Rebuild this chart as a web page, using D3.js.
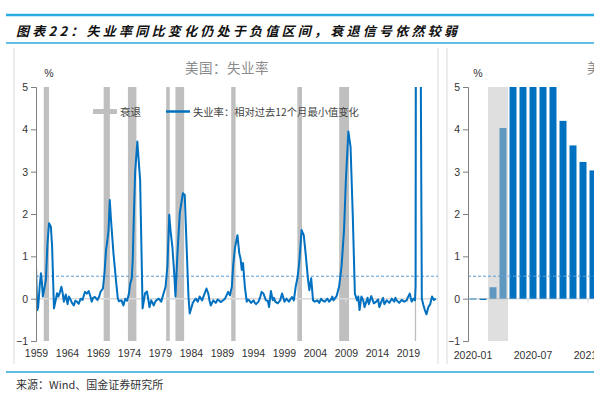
<!DOCTYPE html>
<html><head><meta charset="utf-8">
<script src="https://cdn.jsdelivr.net/npm/d3@7"></script>
<style>
html,body{margin:0;padding:0;background:#fff;}
svg{display:block;}
text{font-family:"Liberation Sans",Arial,sans-serif;}
.cjk{font-family:"Noto Sans CJK SC","Liberation Sans",sans-serif;}
</style></head>
<body>
<svg id="c" width="594" height="395"></svg>
<script>
// ---------- data ----------
const figTitle = "图表22：失业率同比变化仍处于负值区间，衰退信号依然较弱";
const sourceText = "来源：Wind、国金证券研究所";
const panelTitle = "美国：失业率";
const legendLabels = ["衰退", "失业率：相对过去12个月最小值变化"];
const yTicks = [-1, 0, 1, 2, 3, 4, 5];
const xTickYears = [1959, 1964, 1969, 1974, 1979, 1984, 1989, 1994, 1999, 2004, 2009, 2014, 2019];
const thresholdValue = 0.53;
const recessions = [[1960.25, 1961.1], [1969.92, 1970.92], [1973.83, 1975.2], [1980.0, 1980.58],
  [1981.5, 1982.9], [1990.5, 1991.2], [2001.17, 2001.92], [2007.92, 2009.5], [2020.12, 2020.33]];
// [year, value]
const unemploymentChange = [
 [1959.0,0.76],[1959.2,-0.27],[1959.35,-0.2],[1959.6,0.3],[1959.8,0.6],[1959.95,0.4],[1960.1,0.05],[1960.3,0.2],
 [1960.6,0.45],[1960.85,1.3],[1961.1,1.78],[1961.4,1.7],[1961.6,1.23],[1961.9,-0.23],[1962.2,-0.02],[1962.4,0.13],
 [1962.6,0.05],[1962.85,0.15],[1963.1,0.28],[1963.3,0.13],[1963.5,-0.07],[1963.8,0.1],[1964.1,-0.13],[1964.3,0.05],
 [1964.5,0.0],[1964.8,-0.1],[1965.1,-0.16],[1965.35,-0.05],[1965.6,-0.07],[1965.9,-0.12],[1966.2,0.0],[1966.5,-0.03],
 [1966.9,0.16],[1967.2,0.12],[1967.5,0.18],[1967.8,0.04],[1968.0,-0.07],[1968.2,0.02],[1968.5,0.04],[1968.9,-0.03],
 [1969.2,0.05],[1969.4,0.16],[1969.8,0.24],[1970.05,0.6],[1970.3,1.15],[1970.5,1.35],[1970.7,1.62],[1970.9,2.33],
 [1971.1,1.86],[1971.5,1.07],[1971.9,0.44],[1972.2,0.0],[1972.4,-0.06],[1972.6,-0.05],[1972.8,-0.04],[1973.1,-0.16],
 [1973.4,0.0],[1973.7,-0.05],[1974.0,0.12],[1974.2,0.36],[1974.45,0.48],[1974.6,0.9],[1974.8,2.02],[1975.0,3.0],
 [1975.35,3.71],[1975.6,3.2],[1975.8,2.8],[1976.2,-0.23],[1976.4,-0.05],[1976.6,0.13],[1976.9,0.17],[1977.1,0.0],
 [1977.3,-0.2],[1977.6,-0.04],[1977.8,-0.1],[1978.0,-0.16],[1978.2,-0.08],[1978.4,-0.04],[1978.8,0.0],[1979.0,-0.03],
 [1979.2,-0.07],[1979.5,0.08],[1979.9,0.28],[1980.2,0.76],[1980.5,1.98],[1980.7,1.62],[1981.0,1.23],[1981.3,0.6],
 [1981.5,0.05],[1981.8,1.0],[1982.2,2.02],[1982.7,2.49],[1983.0,2.45],[1983.3,1.23],[1983.6,0.05],[1983.8,-0.35],
 [1984.1,-0.2],[1984.3,-0.1],[1984.5,-0.05],[1984.8,0.0],[1985.1,-0.07],[1985.4,0.05],[1985.8,-0.04],[1986.2,0.12],
 [1986.5,0.24],[1986.8,0.12],[1987.0,-0.05],[1987.2,-0.16],[1987.6,-0.04],[1988.0,-0.1],[1988.3,-0.02],[1988.5,-0.04],
 [1988.8,-0.08],[1989.1,-0.05],[1989.5,0.0],[1990.0,0.16],[1990.3,0.08],[1990.6,0.28],[1990.8,0.76],[1991.1,1.2],
 [1991.5,1.5],[1991.8,1.07],[1992.0,0.95],[1992.2,0.68],[1992.4,0.84],[1992.7,0.28],[1993.0,-0.07],[1993.2,-0.02],
 [1993.4,-0.04],[1993.7,-0.1],[1994.1,-0.04],[1994.3,-0.1],[1994.5,-0.13],[1994.9,-0.07],[1995.2,0.05],[1995.4,0.16],
 [1995.7,0.12],[1996.1,-0.04],[1996.4,-0.05],[1996.6,-0.2],[1996.9,0.18],[1997.2,-0.04],[1997.4,0.02],[1997.6,-0.07],
 [1998.0,-0.11],[1998.4,-0.04],[1998.7,0.12],[1999.1,-0.07],[1999.4,0.0],[1999.8,-0.07],[2000.3,0.04],[2000.6,-0.04],
 [2000.9,0.28],[2001.2,0.5],[2001.5,0.9],[2001.85,1.62],[2002.2,1.5],[2002.5,1.07],[2002.9,0.44],[2003.1,0.2],
 [2003.4,0.48],[2003.7,-0.04],[2004.0,-0.07],[2004.4,-0.04],[2004.7,-0.1],[2005.0,0.0],[2005.2,-0.04],[2005.6,-0.07],
 [2006.0,0.0],[2006.3,-0.07],[2006.6,-0.02],[2006.8,0.05],[2007.0,-0.04],[2007.5,0.06],[2007.9,0.28],[2008.3,0.76],
 [2008.7,1.62],[2009.0,2.8],[2009.4,3.95],[2009.75,3.59],[2010.1,2.02],[2010.45,0.12],[2010.8,-0.04],[2011.0,0.05],
 [2011.2,-0.27],[2011.5,0.05],[2011.8,-0.04],[2012.0,-0.2],[2012.3,-0.07],[2012.5,0.02],[2012.7,-0.13],[2013.1,0.06],
 [2013.5,-0.11],[2013.9,-0.07],[2014.2,-0.02],[2014.4,-0.2],[2014.8,-0.04],[2015.0,0.02],[2015.2,-0.13],[2015.6,-0.04],
 [2016.0,-0.1],[2016.4,0.0],[2016.8,-0.07],[2017.0,0.02],[2017.2,-0.04],[2017.6,-0.1],[2018.0,-0.03],[2018.4,-0.07],
 [2018.8,-0.04],[2019.0,0.03],[2019.3,0.12],[2019.6,-0.07],[2019.9,0.0],[2020.15,-0.04],[2020.25,0.3],[2020.33,11.2],
 [2020.42,9.7],[2020.5,7.5],[2020.75,6.8],[2021.0,6.0],[2021.08,5.6],[2021.17,2.5],[2021.25,0.0],[2021.5,-0.15],
 [2021.75,-0.27],[2022.0,-0.37],[2022.3,-0.2],[2022.6,-0.13],[2022.9,0.05],[2023.2,-0.03],[2023.5,0.0]
];
// right panel: monthly bars
const months = ["2020-01","2020-02","2020-03","2020-04","2020-05","2020-06","2020-07","2020-08","2020-09",
  "2020-10","2020-11","2020-12","2021-01","2021-02","2021-03"];
const monthValues = [0.0, -0.03, 0.27, 4.03, 7.27, 9.47, 8.13, 6.37, 5.3, 4.2, 3.62, 3.23, 3.03, 2.9, 2.6];
const recessionMonths = ["2020-03", "2020-04"];
const monthTickLabels = ["2020-01", "2020-07", "2021-01"];

// ---------- styles ----------
const BLUE = "#0070c0", GRAY_BAND = "#bfbfbf", AXIS = "#7f7f7f", TXT = "#333";
const svg = d3.select("#c");

// header / footer
svg.append("line").attr("x1",6).attr("x2",594).attr("y1",15).attr("y2",15).attr("stroke","#29abe2").attr("stroke-width",2.5);
svg.append("line").attr("x1",6).attr("x2",594).attr("y1",43).attr("y2",43).attr("stroke","#29abe2").attr("stroke-width",1.5);
svg.append("text").attr("class","cjk").attr("x",16).attr("y",35.5).attr("font-size",13).attr("font-weight","bold")
  .attr("font-style","italic").attr("letter-spacing",3.25).attr("fill","#111").text(figTitle);
svg.append("line").attr("x1",6).attr("x2",594).attr("y1",372).attr("y2",372).attr("stroke","#29abe2").attr("stroke-width",1.5);
svg.append("text").attr("class","cjk").attr("x",16).attr("y",389).attr("font-size",11).attr("fill",TXT).text(sourceText);

// panel borders
[14, 438, 447].forEach(px => svg.append("line").attr("x1",px).attr("x2",px).attr("y1",48).attr("y2",364)
  .attr("stroke","#d9d9d9").attr("stroke-width",1));

// ---------- left chart ----------
const x = d3.scaleLinear().domain([1959, 2023.7]).range([36, 437]);
const y = d3.scaleLinear().domain([-1, 5]).range([341, 87]);

const defs = svg.append("defs");
defs.append("clipPath").attr("id","clipL").append("rect").attr("x",36).attr("y",y(5)).attr("width",402).attr("height",y(-1)-y(5));
defs.append("clipPath").attr("id","clipR").append("rect").attr("x",468).attr("y",y(5)).attr("width",130).attr("height",y(-1)-y(5));

const L = svg.append("g");
L.selectAll("rect.rec").data(recessions).join("rect").attr("class","rec")
  .attr("x", d => x(d[0])).attr("width", d => Math.max(1.2, x(d[1]) - x(d[0])))
  .attr("y", y(5)).attr("height", y(-1) - y(5)).attr("fill", GRAY_BAND);
L.append("line").attr("x1",x(1959)).attr("x2",438).attr("y1",y(0)).attr("y2",y(0)).attr("stroke","#d9d9d9").attr("stroke-width",1.5);
L.selectAll("line.zt").data(xTickYears).join("line").attr("class","zt")
  .attr("x1",d=>x(d)).attr("x2",d=>x(d)).attr("y1",y(0)).attr("y2",y(0)+4).attr("stroke","#d9d9d9");
L.append("line").attr("x1",x(1959)).attr("x2",438).attr("y1",y(thresholdValue)).attr("y2",y(thresholdValue))
  .attr("stroke","#5b9bd5").attr("stroke-width",1).attr("stroke-dasharray","3,2");
L.append("path").datum(unemploymentChange).attr("clip-path","url(#clipL)")
  .attr("d", d3.line().x(d => x(d[0])).y(d => y(d[1])))
  .attr("fill","none").attr("stroke",BLUE).attr("stroke-width",2).attr("stroke-linejoin","round");

const yAxisL = L.append("g").attr("transform","translate(36,0)")
  .call(d3.axisLeft(y).tickValues(yTicks).tickSize(5).tickPadding(3).tickFormat(d3.format("d")));
yAxisL.select(".domain").attr("stroke",AXIS);
yAxisL.selectAll(".tick line").attr("stroke",AXIS);
yAxisL.selectAll("text").attr("font-size",10.5).attr("fill",TXT).attr("font-family","Liberation Sans, Arial, sans-serif");

const xAxisL = L.append("g").attr("transform",`translate(0,${y(-1)})`)
  .call(d3.axisBottom(x).tickValues(xTickYears).tickSize(0).tickPadding(9).tickFormat(d3.format("d")));
xAxisL.select(".domain").remove();
xAxisL.selectAll("text").attr("font-size",10.5).attr("fill",TXT).attr("font-family","Liberation Sans, Arial, sans-serif");

svg.append("text").attr("x",49).attr("y",77).attr("text-anchor","middle").attr("font-size",10.5).attr("fill",TXT).text("%");
svg.append("text").attr("class","cjk").attr("x",227).attr("y",73).attr("text-anchor","middle").attr("font-size",13.5)
  .attr("letter-spacing",0.5).attr("fill","#8c8c8c").text(panelTitle);

// legend
svg.append("line").attr("x1",93).attr("x2",117).attr("y1",111.5).attr("y2",111.5).attr("stroke",GRAY_BAND).attr("stroke-width",5);
svg.append("text").attr("class","cjk").attr("x",120).attr("y",115.5).attr("font-size",10.5).attr("fill","#444").text(legendLabels[0]);
svg.append("line").attr("x1",166).attr("x2",190).attr("y1",111.5).attr("y2",111.5).attr("stroke",BLUE).attr("stroke-width",2.5);
svg.append("text").attr("class","cjk").attr("x",193).attr("y",115.5).attr("font-size",10.3).attr("fill","#444").text(legendLabels[1]);

// ---------- right chart ----------
const xb = d3.scaleBand().domain(months).range([468, 468 + 10 * months.length]).padding(0);
const R = svg.append("g");
R.append("line").attr("x1",468).attr("x2",594).attr("y1",y(0)).attr("y2",y(0)).attr("stroke","#d9d9d9").attr("stroke-width",1.5);
R.selectAll("line.mt").data(monthTickLabels.slice(1)).join("line").attr("class","mt")
  .attr("x1",d=>xb(d)).attr("x2",d=>xb(d)).attr("y1",y(0)).attr("y2",y(0)+4).attr("stroke","#d9d9d9");
R.append("g").attr("clip-path","url(#clipR)").selectAll("rect").data(months).join("rect")
  .attr("x", (d) => xb(d) + xb.bandwidth() * 0.15).attr("width", xb.bandwidth() * 0.7)
  .attr("y", (d, i) => y(Math.max(0, monthValues[i])))
  .attr("height", (d, i) => Math.max(0.8, Math.abs(y(monthValues[i]) - y(0))))
  .attr("fill", BLUE);
R.append("rect").attr("x", xb(recessionMonths[0])).attr("width", xb(recessionMonths[1]) + xb.bandwidth() - xb(recessionMonths[0]))
  .attr("y", y(5)).attr("height", y(-1) - y(5)).attr("fill","#c0c0c0").attr("opacity",0.5);
R.append("line").attr("x1",468).attr("x2",594).attr("y1",y(thresholdValue)).attr("y2",y(thresholdValue))
  .attr("stroke","#5b9bd5").attr("stroke-width",1).attr("stroke-dasharray","3,2");
const yAxisR = R.append("g").attr("transform","translate(468,0)")
  .call(d3.axisLeft(y).tickValues(yTicks).tickSize(5).tickPadding(3).tickFormat(d3.format("d")));
yAxisR.select(".domain").attr("stroke",AXIS);
yAxisR.selectAll(".tick line").attr("stroke",AXIS);
yAxisR.selectAll("text").attr("font-size",10.5).attr("fill",TXT).attr("font-family","Liberation Sans, Arial, sans-serif");
R.selectAll("text.ml").data(monthTickLabels).join("text").attr("class","ml")
  .attr("x", d => xb(d) + xb.bandwidth() / 2).attr("y", y(-1) + 18).attr("text-anchor","middle")
  .attr("font-size",10.5).attr("fill",TXT).text(d => d);
svg.append("text").attr("x",478).attr("y",77).attr("text-anchor","middle").attr("font-size",10.5).attr("fill",TXT).text("%");
svg.append("text").attr("class","cjk").attr("x",587).attr("y",73).attr("font-size",13.5).attr("fill","#8c8c8c").text(panelTitle);
</script>
</body></html>
